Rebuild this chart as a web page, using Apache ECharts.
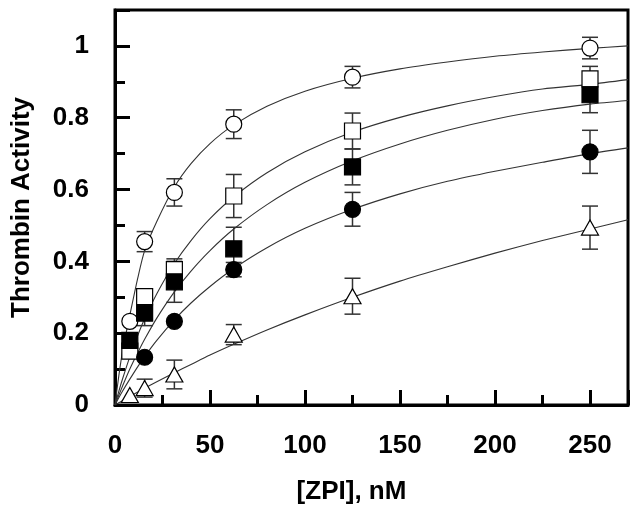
<!DOCTYPE html>
<html>
<head>
<meta charset="utf-8">
<script src="https://cdn.jsdelivr.net/npm/echarts@6/dist/echarts.min.js"></script>
<style>
html,body{margin:0;padding:0;background:#fff;}
#chart{width:639px;height:519px;}
</style>
</head>
<body>
<div id="chart"></div>
<script>
// ---- data ----
const xConc = [7.8, 15.6, 31.25, 62.5, 125, 250];

const openCircleY   = [0.233, 0.455, 0.592, 0.782, 0.913, 0.994];
const openCircleErr = [0, 0.028, 0.038, 0.04, 0.03, 0.03];

const openSquareY   = [0.150, 0.302, 0.377, 0.582, 0.763, 0.908];
const openSquareErr = [0, 0, 0.03, 0.06, 0.05, 0.035];

const filledSquareY   = [0.180, 0.256, 0.343, 0.435, 0.663, 0.864];
const filledSquareErr = [0, 0.035, 0.057, 0.06, 0.05, 0.05];

const filledCircleY   = [null, 0.133, 0.233, 0.377, 0.545, 0.705];
const filledCircleErr = [0, 0, 0, 0.02, 0.047, 0.06];

const triangleY   = [0.028, 0.047, 0.085, 0.196, 0.303, 0.494];
const triangleErr = [0, 0.025, 0.04, 0.028, 0.05, 0.06];

// fitted curves
const curveX = [0, 2, 4, 7.8, 12, 15.6, 22, 31.25, 40, 50, 62.5, 80, 100, 125, 150, 175, 200, 225, 250, 270];
const openCircleCurve   = [0, 0.081, 0.151, 0.250, 0.354, 0.430, 0.511, 0.607, 0.672, 0.728, 0.780, 0.832, 0.874, 0.910, 0.936, 0.955, 0.971, 0.983, 0.993, 1.000];
const openSquareCurve   = [0, 0.038, 0.073, 0.134, 0.194, 0.240, 0.310, 0.394, 0.458, 0.519, 0.580, 0.647, 0.705, 0.760, 0.801, 0.833, 0.859, 0.880, 0.893, 0.906];
const filledSquareCurve = [0, 0.027, 0.053, 0.100, 0.146, 0.183, 0.242, 0.315, 0.373, 0.430, 0.490, 0.558, 0.620, 0.680, 0.727, 0.765, 0.796, 0.820, 0.838, 0.848];
const filledCircleCurve = [0, 0.020, 0.039, 0.072, 0.107, 0.135, 0.180, 0.237, 0.284, 0.330, 0.380, 0.438, 0.492, 0.545, 0.588, 0.623, 0.651, 0.676, 0.700, 0.716];
const triangleCurve     = [0, 0.006, 0.012, 0.024, 0.036, 0.047, 0.065, 0.090, 0.113, 0.139, 0.169, 0.209, 0.251, 0.300, 0.345, 0.385, 0.423, 0.458, 0.490, 0.516];

const xTickLabels = ['0', '50', '100', '150', '200', '250'];
const yTickLabels = ['0', '0.2', '0.4', '0.6', '0.8', '1'];

// ---- chart ----
const FONT = "'Liberation Sans', Arial, sans-serif";
const chart = echarts.init(document.getElementById('chart'), null, {renderer: 'canvas'});

function pts(ys) {
  const out = [];
  ys.forEach((y, i) => { if (y !== null) out.push([xConc[i], y]); });
  return out;
}
function errs(ys, es) {
  const out = [];
  ys.forEach((y, i) => { if (y !== null && es[i] > 0) out.push([xConc[i], y, es[i]]); });
  return out;
}
function curve(ys) { return curveX.map((x, i) => [x, ys[i]]); }

const groups = [
  {y: openCircleY, e: openCircleErr, c: openCircleCurve, symbol: 'circle', size: 16, fill: '#fff'},
  {y: openSquareY, e: openSquareErr, c: openSquareCurve, symbol: 'rect', size: 16, fill: '#fff'},
  {y: filledSquareY, e: filledSquareErr, c: filledSquareCurve, symbol: 'rect', size: 16, fill: '#000'},
  {y: filledCircleY, e: filledCircleErr, c: filledCircleCurve, symbol: 'circle', size: 16, fill: '#000'},
  {y: triangleY, e: triangleErr, c: triangleCurve, symbol: 'triangle', size: [17, 15], fill: '#fff'}
];

const errStyle = {stroke: '#333', lineWidth: 1.5};
function renderErr(params, api) {
  const x = api.value(0), y = api.value(1), e = api.value(2);
  const t = api.coord([x, y + e]);
  const b = api.coord([x, y - e]);
  const hw = 8;
  return {
    type: 'group',
    children: [
      {type: 'line', shape: {x1: t[0], y1: t[1], x2: b[0], y2: b[1]}, style: errStyle},
      {type: 'line', shape: {x1: t[0] - hw, y1: t[1], x2: t[0] + hw, y2: t[1]}, style: errStyle},
      {type: 'line', shape: {x1: b[0] - hw, y1: b[1], x2: b[0] + hw, y2: b[1]}, style: errStyle}
    ]
  };
}

const series = [];
groups.forEach(g => {
  series.push({
    type: 'line', data: curve(g.c), smooth: 0.25,
    showSymbol: false, symbol: 'none', silent: true, z: 2,
    lineStyle: {color: '#333', width: 1.1}
  });
});
groups.forEach(g => {
  series.push({
    type: 'custom', data: errs(g.y, g.e), renderItem: renderErr, z: 3, silent: true
  });
});
groups.forEach(g => {
  series.push({
    type: 'scatter', data: pts(g.y), symbol: g.symbol, symbolSize: g.size, z: 5,
    itemStyle: {color: g.fill, borderColor: '#000', borderWidth: 1.2, opacity: 1}
  });
});

const labelStyle = {fontFamily: FONT, fontSize: 26, fontWeight: 'bold', color: '#000'};

const option = {
  animation: false,
  backgroundColor: '#fff',
  grid: {left: 115, right: 11, top: 10, bottom: 114, show: true, borderColor: '#000', borderWidth: 3, backgroundColor: 'transparent'},
  xAxis: [
    {
      type: 'value', min: 0, max: 270, interval: 50, position: 'bottom',
      name: '[ZPI], nM', nameLocation: 'middle', nameGap: 74,
      nameTextStyle: Object.assign({}, labelStyle, {padding: [0, 40, 0, 0]}),
      axisLine: {show: true, lineStyle: {color: '#000', width: 3}},
      axisTick: {show: true, inside: true, length: 15, lineStyle: {color: '#000', width: 3}},
      axisLabel: Object.assign({}, labelStyle, {
        margin: 28,
        formatter: v => { const i = Math.round(v / 50); return (Math.abs(v - i * 50) < 1e-6 && i < xTickLabels.length) ? xTickLabels[i] : ''; }
      }),
      splitLine: {show: false}
    },
    {
      type: 'value', min: 0, max: 270, interval: 25, position: 'bottom',
      axisLine: {show: false},
      axisTick: {show: true, inside: true, length: 10, lineStyle: {color: '#000', width: 3}},
      axisLabel: {show: false},
      splitLine: {show: false}
    }
  ],
  yAxis: [
    {
      type: 'value', min: 0, max: 1.1, interval: 0.2, position: 'left',
      name: 'Thrombin Activity', nameLocation: 'middle', nameGap: 80,
      nameTextStyle: labelStyle,
      axisLine: {show: true, lineStyle: {color: '#000', width: 3}},
      axisTick: {show: true, inside: true, length: 15, lineStyle: {color: '#000', width: 3}},
      axisLabel: Object.assign({}, labelStyle, {
        margin: 26,
        formatter: v => { const i = Math.round(v / 0.2); return (Math.abs(v - i * 0.2) < 1e-6 && i < yTickLabels.length) ? yTickLabels[i] : ''; }
      }),
      splitLine: {show: false}
    },
    {
      type: 'value', min: 0, max: 1.1, interval: 0.1, position: 'left',
      axisLine: {show: false},
      axisTick: {show: true, inside: true, length: 10, lineStyle: {color: '#000', width: 3}},
      axisLabel: {show: false},
      splitLine: {show: false}
    }
  ],
  series: series
};
chart.setOption(option);
</script>
</body>
</html>
